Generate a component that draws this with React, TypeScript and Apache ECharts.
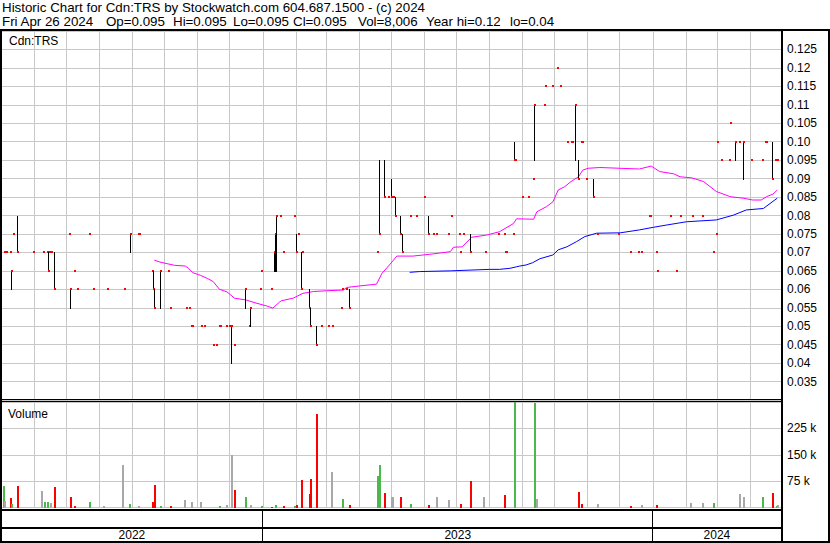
import React, { useEffect, useRef } from "react";
import * as echarts from "echarts";

const FONT = "'Liberation Sans', Arial, sans-serif";

// ---------- text ----------
const titleLine = "Historic Chart for Cdn:TRS by Stockwatch.com 604.687.1500 - (c) 2024";
const quoteParts = ["Fri Apr 26 2024", "Op=0.095", "Hi=0.095", "Lo=0.095", "Cl=0.095", "Vol=8,006", "Year hi=0.12", "lo=0.04"];
const symbolLabel = "Cdn:TRS";
const volumeLabel = "Volume";
const years = ["2022", "2023", "2024"];

// ---------- axes ----------
const FIRST_DAY = "2022-05-01";
const LAST_DAY = "2024-04-29";
const PRICE_MIN = 0.03;
const PRICE_MAX = 0.13;
const PRICE_STEP = 0.005;
const VOL_MAX = 300000;
const VOL_STEP = 75000;

function buildDays(start: string, end: string): string[] {
  const out: string[] = [];
  const d = new Date(start + "T00:00:00Z");
  const e = new Date(end + "T00:00:00Z");
  while (d.getTime() <= e.getTime()) {
    out.push(d.toISOString().slice(0, 10));
    d.setUTCDate(d.getUTCDate() + 1);
  }
  return out;
}
const days = buildDays(FIRST_DAY, LAST_DAY);

// ---------- daily prices: [date, high, low, close] ----------
const prices: [string, number, number, number][] = [
  ["2022-05-04", 0.07, 0.07, 0.07],
  ["2022-05-06", 0.07, 0.07, 0.07],
  ["2022-05-09", 0.07, 0.07, 0.07],
  ["2022-05-10", 0.065, 0.06, 0.065],
  ["2022-05-12", 0.075, 0.075, 0.075],
  ["2022-05-16", 0.08, 0.07, 0.07],
  ["2022-05-31", 0.07, 0.07, 0.07],
  ["2022-06-09", 0.07, 0.07, 0.07],
  ["2022-06-13", 0.07, 0.07, 0.07],
  ["2022-06-14", 0.07, 0.065, 0.065],
  ["2022-06-15", 0.07, 0.07, 0.07],
  ["2022-06-16", 0.07, 0.07, 0.07],
  ["2022-06-17", 0.07, 0.07, 0.07],
  ["2022-06-20", 0.07, 0.06, 0.06],
  ["2022-07-04", 0.075, 0.075, 0.075],
  ["2022-07-05", 0.06, 0.055, 0.06],
  ["2022-07-08", 0.065, 0.065, 0.065],
  ["2022-07-11", 0.06, 0.06, 0.06],
  ["2022-07-22", 0.075, 0.075, 0.075],
  ["2022-07-26", 0.06, 0.06, 0.06],
  ["2022-08-08", 0.06, 0.06, 0.06],
  ["2022-08-24", 0.06, 0.06, 0.06],
  ["2022-08-30", 0.075, 0.07, 0.075],
  ["2022-09-06", 0.075, 0.075, 0.075],
  ["2022-09-07", 0.075, 0.075, 0.075],
  ["2022-09-19", 0.065, 0.065, 0.065],
  ["2022-09-20", 0.065, 0.06, 0.06],
  ["2022-09-21", 0.06, 0.055, 0.055],
  ["2022-09-27", 0.065, 0.055, 0.065],
  ["2022-10-04", 0.065, 0.065, 0.065],
  ["2022-10-06", 0.055, 0.055, 0.055],
  ["2022-10-21", 0.055, 0.055, 0.055],
  ["2022-10-24", 0.055, 0.055, 0.055],
  ["2022-10-26", 0.05, 0.05, 0.05],
  ["2022-10-27", 0.05, 0.05, 0.05],
  ["2022-11-04", 0.05, 0.05, 0.05],
  ["2022-11-07", 0.05, 0.05, 0.05],
  ["2022-11-15", 0.045, 0.045, 0.045],
  ["2022-11-18", 0.045, 0.045, 0.045],
  ["2022-11-21", 0.05, 0.05, 0.05],
  ["2022-11-22", 0.05, 0.05, 0.05],
  ["2022-11-28", 0.05, 0.05, 0.05],
  ["2022-11-30", 0.05, 0.05, 0.05],
  ["2022-12-02", 0.05, 0.04, 0.05],
  ["2022-12-05", 0.045, 0.045, 0.045],
  ["2022-12-15", 0.06, 0.055, 0.06],
  ["2022-12-19", 0.05, 0.05, 0.05],
  ["2022-12-20", 0.055, 0.05, 0.055],
  ["2022-12-29", 0.06, 0.06, 0.06],
  ["2022-12-30", 0.065, 0.065, 0.065],
  ["2023-01-09", 0.06, 0.06, 0.06],
  ["2023-01-11", 0.07, 0.065, 0.07],
  ["2023-01-12", 0.075, 0.065, 0.075],
  ["2023-01-13", 0.08, 0.065, 0.08],
  ["2023-01-17", 0.08, 0.08, 0.08],
  ["2023-01-20", 0.07, 0.07, 0.07],
  ["2023-01-30", 0.08, 0.08, 0.08],
  ["2023-02-01", 0.075, 0.07, 0.07],
  ["2023-02-03", 0.075, 0.075, 0.075],
  ["2023-02-06", 0.07, 0.06, 0.06],
  ["2023-02-07", 0.07, 0.07, 0.07],
  ["2023-02-13", 0.06, 0.055, 0.055],
  ["2023-02-14", 0.055, 0.05, 0.05],
  ["2023-02-20", 0.05, 0.045, 0.045],
  ["2023-02-24", 0.05, 0.05, 0.05],
  ["2023-03-03", 0.05, 0.05, 0.05],
  ["2023-03-07", 0.05, 0.05, 0.05],
  ["2023-03-15", 0.055, 0.055, 0.055],
  ["2023-03-16", 0.06, 0.06, 0.06],
  ["2023-03-20", 0.06, 0.06, 0.06],
  ["2023-03-23", 0.06, 0.055, 0.055],
  ["2023-04-18", 0.07, 0.07, 0.07],
  ["2023-04-20", 0.095, 0.075, 0.075],
  ["2023-04-24", 0.095, 0.085, 0.085],
  ["2023-04-28", 0.085, 0.085, 0.085],
  ["2023-05-01", 0.09, 0.085, 0.085],
  ["2023-05-02", 0.085, 0.085, 0.085],
  ["2023-05-03", 0.085, 0.085, 0.085],
  ["2023-05-05", 0.085, 0.08, 0.08],
  ["2023-05-09", 0.08, 0.075, 0.075],
  ["2023-05-11", 0.075, 0.07, 0.07],
  ["2023-05-19", 0.08, 0.08, 0.08],
  ["2023-05-24", 0.08, 0.08, 0.08],
  ["2023-06-01", 0.085, 0.085, 0.085],
  ["2023-06-05", 0.08, 0.075, 0.075],
  ["2023-06-09", 0.075, 0.075, 0.075],
  ["2023-06-12", 0.075, 0.075, 0.075],
  ["2023-06-23", 0.075, 0.075, 0.075],
  ["2023-06-26", 0.08, 0.08, 0.08],
  ["2023-07-04", 0.075, 0.075, 0.075],
  ["2023-07-05", 0.07, 0.07, 0.07],
  ["2023-07-07", 0.075, 0.075, 0.075],
  ["2023-07-14", 0.075, 0.07, 0.07],
  ["2023-07-28", 0.07, 0.07, 0.07],
  ["2023-08-09", 0.075, 0.075, 0.075],
  ["2023-08-15", 0.075, 0.075, 0.075],
  ["2023-08-16", 0.07, 0.07, 0.07],
  ["2023-08-17", 0.07, 0.07, 0.07],
  ["2023-08-23", 0.075, 0.075, 0.075],
  ["2023-08-24", 0.1, 0.095, 0.095],
  ["2023-08-25", 0.095, 0.095, 0.095],
  ["2023-09-01", 0.085, 0.085, 0.085],
  ["2023-09-06", 0.085, 0.085, 0.085],
  ["2023-09-11", 0.09, 0.09, 0.09],
  ["2023-09-12", 0.11, 0.095, 0.11],
  ["2023-09-21", 0.11, 0.11, 0.11],
  ["2023-09-22", 0.115, 0.115, 0.115],
  ["2023-09-29", 0.115, 0.115, 0.115],
  ["2023-10-03", 0.12, 0.12, 0.12],
  ["2023-10-06", 0.115, 0.115, 0.115],
  ["2023-10-13", 0.1, 0.1, 0.1],
  ["2023-10-16", 0.1, 0.1, 0.1],
  ["2023-10-17", 0.1, 0.1, 0.1],
  ["2023-10-20", 0.11, 0.095, 0.11],
  ["2023-10-23", 0.095, 0.09, 0.09],
  ["2023-10-26", 0.1, 0.1, 0.1],
  ["2023-10-27", 0.1, 0.1, 0.1],
  ["2023-10-30", 0.09, 0.09, 0.09],
  ["2023-11-06", 0.09, 0.085, 0.085],
  ["2023-11-10", 0.075, 0.075, 0.075],
  ["2023-11-29", 0.075, 0.075, 0.075],
  ["2023-12-11", 0.07, 0.07, 0.07],
  ["2023-12-18", 0.07, 0.07, 0.07],
  ["2023-12-21", 0.07, 0.07, 0.07],
  ["2023-12-28", 0.08, 0.08, 0.08],
  ["2023-12-29", 0.08, 0.08, 0.08],
  ["2024-01-04", 0.07, 0.07, 0.07],
  ["2024-01-05", 0.065, 0.065, 0.065],
  ["2024-01-17", 0.08, 0.08, 0.08],
  ["2024-01-23", 0.065, 0.065, 0.065],
  ["2024-01-26", 0.08, 0.08, 0.08],
  ["2024-02-07", 0.08, 0.08, 0.08],
  ["2024-02-16", 0.08, 0.08, 0.08],
  ["2024-02-26", 0.07, 0.07, 0.07],
  ["2024-02-29", 0.075, 0.075, 0.075],
  ["2024-03-01", 0.1, 0.1, 0.1],
  ["2024-03-05", 0.095, 0.095, 0.095],
  ["2024-03-12", 0.095, 0.095, 0.095],
  ["2024-03-13", 0.105, 0.105, 0.105],
  ["2024-03-18", 0.1, 0.095, 0.1],
  ["2024-03-22", 0.1, 0.1, 0.1],
  ["2024-03-25", 0.1, 0.09, 0.1],
  ["2024-04-02", 0.095, 0.095, 0.095],
  ["2024-04-12", 0.095, 0.095, 0.095],
  ["2024-04-15", 0.1, 0.1, 0.1],
  ["2024-04-16", 0.1, 0.1, 0.1],
  ["2024-04-22", 0.1, 0.09, 0.09],
  ["2024-04-24", 0.095, 0.095, 0.095],
  ["2024-04-25", 0.095, 0.095, 0.095],
  ["2024-04-26", 0.095, 0.095, 0.095],
];

// ---------- moving averages: [date, value] ----------
const maShort: [string, number][] = [
  ["2022-09-21", 0.0679], ["2022-09-26", 0.0674], ["2022-10-02", 0.067], ["2022-10-10", 0.0665],
  ["2022-10-20", 0.0663], ["2022-10-23", 0.0657], ["2022-10-27", 0.0645], ["2022-11-03", 0.0638],
  ["2022-11-10", 0.0629], ["2022-11-15", 0.0621], ["2022-11-21", 0.06], ["2022-11-28", 0.0593],
  ["2022-12-05", 0.0576], ["2022-12-16", 0.0571], ["2022-12-26", 0.0562], ["2023-01-04", 0.0555],
  ["2023-01-10", 0.0549], ["2023-01-16", 0.0565], ["2023-01-18", 0.0569], ["2023-01-29", 0.0576],
  ["2023-02-07", 0.0589], ["2023-02-17", 0.0594], ["2023-03-01", 0.0596], ["2023-03-17", 0.0598],
  ["2023-03-20", 0.0605], ["2023-04-01", 0.0609], ["2023-04-17", 0.0614], ["2023-04-22", 0.0643],
  ["2023-04-29", 0.0666], ["2023-05-06", 0.069], ["2023-05-21", 0.069], ["2023-06-09", 0.0696],
  ["2023-06-25", 0.0702], ["2023-06-28", 0.0714], ["2023-07-06", 0.0715], ["2023-07-15", 0.0741],
  ["2023-07-29", 0.0747], ["2023-08-10", 0.0756], ["2023-08-23", 0.0778], ["2023-08-26", 0.0791],
  ["2023-09-11", 0.079], ["2023-09-14", 0.081], ["2023-09-23", 0.0824], ["2023-09-29", 0.0837],
  ["2023-10-04", 0.0869], ["2023-10-10", 0.0878], ["2023-10-16", 0.0892], ["2023-10-23", 0.0905],
  ["2023-10-27", 0.0923], ["2023-11-01", 0.0928], ["2023-11-12", 0.093], ["2023-12-19", 0.0926],
  ["2023-12-30", 0.0934], ["2024-01-07", 0.0919], ["2024-01-20", 0.0913], ["2024-01-26", 0.0905],
  ["2024-02-06", 0.0902], ["2024-02-17", 0.0892], ["2024-02-29", 0.0865], ["2024-03-13", 0.0851],
  ["2024-03-25", 0.0847], ["2024-04-03", 0.0842], ["2024-04-11", 0.0842], ["2024-04-16", 0.0851],
  ["2024-04-22", 0.0858], ["2024-04-26", 0.0869],
];

const maLong: [string, number][] = [
  ["2023-05-18", 0.0646], ["2023-05-27", 0.0648], ["2023-06-25", 0.065], ["2023-08-01", 0.0654],
  ["2023-08-10", 0.0654], ["2023-08-20", 0.0657], ["2023-08-26", 0.0661], ["2023-08-29", 0.0663],
  ["2023-09-04", 0.0666], ["2023-09-10", 0.0672], ["2023-09-17", 0.0683], ["2023-09-29", 0.0693],
  ["2023-10-04", 0.0707], ["2023-10-12", 0.0715], ["2023-10-21", 0.0729], ["2023-10-29", 0.0743],
  ["2023-11-09", 0.0752], ["2023-12-01", 0.0753], ["2023-12-19", 0.0761], ["2024-01-01", 0.0768],
  ["2024-01-13", 0.0774], ["2024-02-01", 0.0783], ["2024-02-29", 0.0788], ["2024-03-16", 0.0801],
  ["2024-03-28", 0.0815], ["2024-04-13", 0.0819], ["2024-04-26", 0.0847],
];

// ---------- volume: [date, shares, direction (1 up, -1 down, 0 unchanged)] ----------
const volumes: [string, number, number][] = [
  ["2022-05-03", 61000, 1], ["2022-05-04", 18000, 0], ["2022-05-09", 28000, -1], ["2022-05-10", 9000, 1],
  ["2022-05-16", 61000, -1], ["2022-06-07", 47000, 0], ["2022-06-10", 15000, 1], ["2022-06-13", 15000, 1],
  ["2022-06-16", 14000, 0], ["2022-06-20", 58000, -1], ["2022-07-05", 30000, -1], ["2022-07-08", 4000, -1],
  ["2022-07-22", 15000, 1], ["2022-08-04", 4000, 0], ["2022-08-22", 122000, 0], ["2022-08-29", 9000, 1],
  ["2022-09-06", 3000, 0], ["2022-09-19", 15000, -1], ["2022-09-21", 64000, -1], ["2022-09-27", 3000, 1],
  ["2022-10-06", 5000, -1], ["2022-10-19", 20000, 0], ["2022-10-26", 15000, 0], ["2022-11-03", 15000, 0],
  ["2022-11-21", 5000, 1], ["2022-11-28", 7000, 0], ["2022-12-02", 148000, 0], ["2022-12-05", 50000, -1],
  ["2022-12-15", 30000, 1], ["2022-12-20", 6000, 0], ["2022-12-30", 5000, 1], ["2023-01-09", 1000, -1],
  ["2023-01-12", 8000, 1], ["2023-01-20", 4000, -1], ["2023-01-30", 4000, 1], ["2023-02-01", 6000, -1],
  ["2023-02-06", 79000, -1], ["2023-02-13", 37000, -1], ["2023-02-14", 81000, -1], ["2023-02-20", 267000, -1],
  ["2023-03-06", 102000, 0], ["2023-03-16", 23000, 1], ["2023-03-23", 8000, -1], ["2023-04-18", 90000, 1],
  ["2023-04-20", 122000, 1], ["2023-04-24", 40000, -1], ["2023-05-01", 30000, 0], ["2023-05-02", 30000, 0],
  ["2023-05-09", 30000, -1], ["2023-05-19", 10000, 1], ["2023-06-05", 8000, -1], ["2023-06-12", 30000, 0],
  ["2023-06-23", 22000, 0], ["2023-07-05", 10000, -1], ["2023-07-14", 76000, -1], ["2023-07-26", 30000, 0],
  ["2023-08-15", 35000, -1], ["2023-08-24", 350000, 1], ["2023-09-12", 298000, 1], ["2023-09-14", 25000, 0],
  ["2023-10-23", 44000, -1], ["2023-10-26", 10000, -1], ["2023-11-10", 10000, 0], ["2023-12-11", 3000, -1],
  ["2023-12-21", 8000, 0], ["2024-01-04", 8000, -1], ["2024-02-05", 12000, 0], ["2024-02-16", 12000, 0],
  ["2024-02-26", 12000, 1], ["2024-03-22", 37000, 0], ["2024-03-25", 30000, 0], ["2024-04-12", 30000, 1],
  ["2024-04-22", 42000, -1], ["2024-04-25", 4000, 1], ["2024-04-26", 8006, 0],
];

const GRID_COLOR = "#c8c8c8";
const UP = "#4cb84c";
const DOWN = "#ff0000";
const FLAT = "#a8a8a8";

function fmtPrice(v: number): string {
  let s = v.toFixed(3);
  if (s.endsWith("0")) s = s.slice(0, -1);
  return s;
}

export default function App() {
  const ref = useRef<HTMLDivElement>(null);
  useEffect(() => {
    document.body.style.margin = "0";
    const chart = echarts.init(ref.current!, null, { renderer: "svg" });
    const monthStart = (_i: number, v: string) => String(v).slice(8) === "01";
    const xAxisBase = (gridIndex: number) => ({
      type: "category",
      gridIndex,
      data: days,
      boundaryGap: true,
      axisLine: { show: false },
      axisTick: { show: false },
      axisLabel: { show: false },
      splitLine: { show: true, interval: monthStart, lineStyle: { color: GRID_COLOR, width: 1 } },
    });
    const labelStyle = { fontFamily: FONT, fontSize: 12, color: "#000", margin: 6 };

    chart.setOption({
      animation: false,
      backgroundColor: "#ffffff",
      grid: [
        { left: 1, top: 31, width: 780, height: 369 },
        { left: 1, top: 402, width: 780, height: 105.5 },
      ],
      xAxis: [xAxisBase(0), xAxisBase(1)],
      yAxis: [
        {
          type: "value",
          gridIndex: 0,
          position: "right",
          min: PRICE_MIN,
          max: PRICE_MAX,
          interval: PRICE_STEP,
          axisLine: { show: false },
          axisTick: { show: false },
          splitLine: { show: true, lineStyle: { color: GRID_COLOR, width: 1 } },
          axisLabel: { ...labelStyle, showMinLabel: false, showMaxLabel: false, formatter: fmtPrice },
        },
        {
          type: "value",
          gridIndex: 1,
          position: "right",
          min: 0,
          max: VOL_MAX,
          interval: VOL_STEP,
          axisLine: { show: false },
          axisTick: { show: false },
          splitLine: { show: true, lineStyle: { color: GRID_COLOR, width: 1 } },
          axisLabel: {
            ...labelStyle,
            formatter: (v: number) => (v <= 0 || v >= VOL_MAX ? "" : `${v / 1000} k`),
          },
        },
      ],
      series: [
        {
          type: "line",
          xAxisIndex: 0,
          yAxisIndex: 0,
          data: maShort,
          symbol: "none",
          lineStyle: { color: "#ff00ff", width: 1 },
          z: 3,
        },
        {
          type: "line",
          xAxisIndex: 0,
          yAxisIndex: 0,
          data: maLong,
          symbol: "none",
          lineStyle: { color: "#0000ff", width: 1 },
          z: 3,
        },
        {
          type: "custom",
          xAxisIndex: 0,
          yAxisIndex: 0,
          data: prices,
          encode: { x: 0, y: [1, 2, 3] },
          z: 5,
          renderItem: (_p: any, api: any) => {
            const i = api.value(0);
            const hi = api.value(1);
            const lo = api.value(2);
            const cl = api.value(3);
            const a = api.coord([i, hi]);
            const b = api.coord([i, lo]);
            const c = api.coord([i, cl]);
            const x = Math.floor(a[0]);
            const kids: any[] = [];
            if (hi !== lo) {
              const y0 = Math.round(a[1]);
              const y1 = Math.round(b[1]);
              kids.push({ type: "rect", shape: { x, y: y0, width: 1, height: y1 - y0 + 1 }, style: { fill: "#000" } });
            }
            kids.push({ type: "rect", shape: { x, y: Math.round(c[1]) - 1, width: 2, height: 2 }, style: { fill: "#ff0000" } });
            return { type: "group", children: kids };
          },
        },
        {
          type: "custom",
          xAxisIndex: 1,
          yAxisIndex: 1,
          data: volumes,
          encode: { x: 0, y: 1 },
          z: 4,
          renderItem: (_p: any, api: any) => {
            const i = api.value(0);
            const v = api.value(1);
            const dir = api.value(2);
            const base = api.coord([i, 0]);
            const top = api.coord([i, Math.min(v, VOL_MAX)]);
            const x = Math.floor(base[0]);
            const y0 = Math.round(top[1]);
            const y1 = Math.round(base[1]);
            return {
              type: "rect",
              shape: { x, y: y0, width: 2, height: Math.max(1, y1 - y0) },
              style: { fill: dir > 0 ? UP : dir < 0 ? DOWN : FLAT },
            };
          },
        },
      ],
    });

    // positions derived from the time axis
    const cx = (d: string) => chart.convertToPixel({ xAxisIndex: 0 }, d) as number;
    const bandW = cx(days[1]) - cx(days[0]);
    const edge = (d: string) => cx(d) - bandW / 2;
    const leftEdge = edge(days[0]);
    const rightEdge = cx(days[days.length - 1]) + bandW / 2;
    const yearBounds = years.map((y, k) => {
      const s = k === 0 ? leftEdge : edge(`${y}-01-01`);
      const e = k === years.length - 1 ? rightEdge : edge(`${years[k + 1]}-01-01`);
      return [s, e];
    });

    const black = { fill: "#000" };
    const textStyle = (text: string, size: number, align = "left") => ({
      text,
      fill: "#000",
      font: `${size}px ${FONT}`,
      fontFamily: FONT,
      fontSize: size,
      textAlign: align,
      align,
      textVerticalAlign: "middle",
      verticalAlign: "middle",
    });
    const quoteX = [2, 106, 173, 233, 293, 358, 426, 510];

    const graphics: any[] = [
      { type: "text", x: 2, y: 7.5, z: 100, style: textStyle(titleLine, 13.33) },
      ...quoteParts.map((t, k) => ({ type: "text", x: quoteX[k], y: 21.5, z: 100, style: textStyle(t, 13.33) })),
      { type: "text", x: 9, y: 41, z: 100, style: textStyle(symbolLabel, 12) },
      { type: "text", x: 8, y: 414, z: 100, style: textStyle(volumeLabel, 12) },
      // frame
      { type: "rect", z: 100, shape: { x: 0, y: 29, width: 830, height: 2 }, style: black },
      { type: "rect", z: 100, shape: { x: 0, y: 29, width: 2, height: 514 }, style: black },
      { type: "rect", z: 100, shape: { x: 781, y: 29, width: 2, height: 514 }, style: black },
      { type: "rect", z: 100, shape: { x: 828, y: 29, width: 2, height: 514 }, style: black },
      { type: "rect", z: 100, shape: { x: 0, y: 399, width: 782, height: 1 }, style: black },
      { type: "rect", z: 100, shape: { x: 0, y: 401, width: 782, height: 1 }, style: black },
      { type: "rect", z: 100, shape: { x: 0, y: 509, width: 782, height: 2 }, style: black },
      { type: "rect", z: 100, shape: { x: 0, y: 527, width: 782, height: 2 }, style: black },
      { type: "rect", z: 100, shape: { x: 0, y: 541, width: 830, height: 2 }, style: black },
    ];
    yearBounds.forEach(([s, e], k) => {
      if (k > 0) {
        graphics.push({ type: "rect", z: 100, shape: { x: Math.round(s) - 1, y: 510, width: 1, height: 32 }, style: black });
      }
      graphics.push({ type: "text", x: (s + e) / 2, y: 535, z: 100, style: textStyle(years[k], 12, "center") });
    });
    chart.setOption({ graphic: graphics });

    return () => chart.dispose();
  }, []);
  return <div ref={ref} style={{ position: "fixed", left: 0, top: 0, width: 830, height: 543 }} />;
}
